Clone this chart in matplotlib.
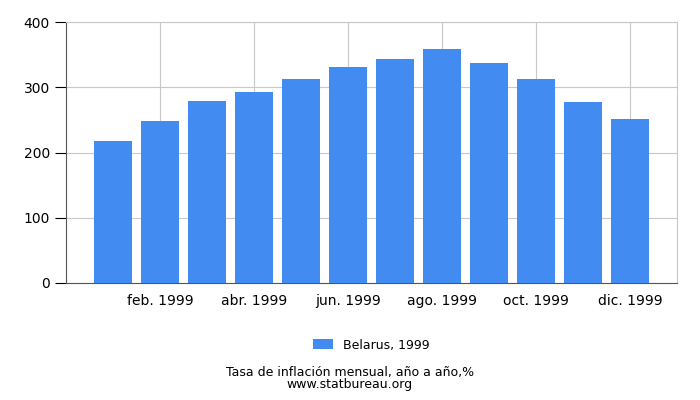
import matplotlib.pyplot as plt

months = ["ene. 1999", "feb. 1999", "mar. 1999", "abr. 1999", "may. 1999", "jun. 1999",
          "jul. 1999", "ago. 1999", "sep. 1999", "oct. 1999", "nov. 1999", "dic. 1999"]
values = [217, 249, 279, 293, 312, 331, 344, 358, 337, 312, 277, 252]
yticks = [0, 100, 200, 300, 400]

fig = plt.figure(figsize=(7, 4), dpi=100)
ax = fig.add_axes([66/700, 1 - 283/400, (677-66)/700, (283-22)/400])
x = range(len(values))
ax.bar(x, values, width=0.8, color="#428bf0", label="Belarus, 1999", zorder=3)
ax.set_xlim(-1, 12)
ax.set_ylim(0, 400)
ax.set_yticks(yticks)
ax.set_xticks(list(x)[1::2])
ax.set_xticklabels(months[1::2])
ax.grid(True, color="#c8c8c8", linewidth=0.8, zorder=0)
for s in ["top", "right"]:
    ax.spines[s].set_color("#c8c8c8")
ax.spines["left"].set_color("#555555")
ax.spines["bottom"].set_color("#555555")
ax.tick_params(axis="x", length=0, labelsize=10, pad=8)
ax.tick_params(axis="y", direction="out", length=8, labelsize=10)
ax.legend(loc="upper center", bbox_to_anchor=(0.5, -0.17), frameon=False, fontsize=9,
          handlelength=1.6, handleheight=0.8)
fig.text(0.5, 0.06, "Tasa de inflación mensual, año a año,%", ha="center", fontsize=9)
fig.text(0.5, 0.03, "www.statbureau.org", ha="center", fontsize=9)
fig.savefig("out.png")
